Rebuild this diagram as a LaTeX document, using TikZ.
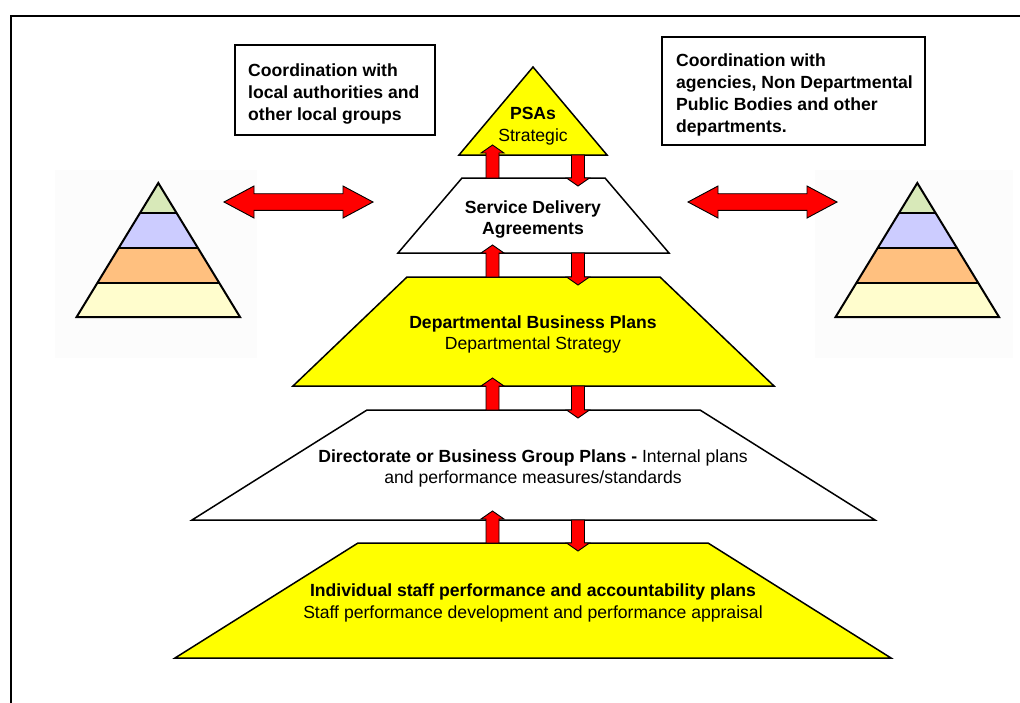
\documentclass[tikz,border=0pt]{standalone}
\usepackage{fontspec}
\setmainfont{Liberation Sans}
\definecolor{hiyellow}{HTML}{FFFF00}
\definecolor{arrowred}{HTML}{FF0000}
\definecolor{tiergreen}{HTML}{D8E9B9}
\definecolor{tierlav}{HTML}{CCCCFF}
\definecolor{tierorange}{HTML}{FFC07F}
\definecolor{tiercream}{HTML}{FFFDCD}
\definecolor{clipbg}{HTML}{FCFCFC}
\begin{document}
\begin{tikzpicture}[x=1pt,y=-1pt,line join=miter,
  level/.style={draw=black,line width=1.5},
  blockarrow/.style={draw=black,fill=arrowred,line width=0.9},
  lbl/.style={font=\fontsize{17.6}{21.5}\selectfont,align=center,inner sep=0,anchor=north},
  boxtext/.style={font=\fontsize{17.6}{22}\selectfont\bfseries,align=left,inner sep=0,anchor=north west},
  pics/uparrow/.style={code={
    \draw[blockarrow] (-6.5,0) -- (-6.5,-#1+8) -- (-11.5,-#1+8) -- (0,-#1)
      -- (11.5,-#1+8) -- (6.5,-#1+8) -- (6.5,0) -- cycle;}},
  pics/downarrow/.style={code={
    \draw[blockarrow] (-6.5,0) -- (-6.5,#1-8) -- (-11.5,#1-8) -- (0,#1)
      -- (11.5,#1-8) -- (6.5,#1-8) -- (6.5,0) -- cycle;}},
  pics/twoway/.style={code={
    \draw[blockarrow] (-74.5,0) -- (-44.5,-16) -- (-44.5,-8.3) -- (44.5,-8.3)
      -- (44.5,-16) -- (74.5,0) -- (44.5,16) -- (44.5,8.3) -- (-44.5,8.3)
      -- (-44.5,16) -- cycle;}},
  pics/tiers/.style={code={
    \begin{scope}
      \clip (0,0) -- (-81.7,134) -- (81.7,134) -- cycle;
      \fill[tiergreen]  (-90,0)    rectangle (90,29.7);
      \fill[tierlav]    (-90,29.7) rectangle (90,64.7);
      \fill[tierorange] (-90,64.7) rectangle (90,99.7);
      \fill[tiercream]  (-90,99.7) rectangle (90,134);
      \draw[line width=2] (-90,29.7) -- (90,29.7) (-90,64.7) -- (90,64.7)
        (-90,99.7) -- (90,99.7);
    \end{scope}
    \draw[line width=2] (0,0) -- (-81.7,134) -- (81.7,134) -- cycle;}}
]
\useasboundingbox (0,0) rectangle (1020,702);
\clip (0,0) rectangle (1020,702);

% page frame
\draw[line width=2] (10.5,15.5) rectangle (1040,730);

% side clip-art pyramids on their pale backgrounds
\fill[clipbg] (55,170) rectangle (257,358);
\fill[clipbg] (815,170) rectangle (1013,358);
\pic (leftpyr) at (158.3,183) {tiers};
\pic (rightpyr) at (917.3,183) {tiers};

% coordination boxes
\draw[line width=1.2] (235,45) rectangle (435,135);
\node[boxtext] (localtxt) at (248,63.5) {Coordination with\\local authorities and\\other local groups};
\draw[line width=1.2] (662,37) rectangle (925,145);
\node[boxtext] (agencytxt) at (676,53.5) {Coordination with\\agencies, Non Departmental\\Public Bodies and other\\departments.};

% the planning pyramid, top to bottom
\draw[level,fill=hiyellow] (533,67) -- (459,155) -- (607,155) -- cycle;
\draw[level,fill=white] (462,178) -- (605,178) -- (669,253) -- (398,253) -- cycle;
\draw[level,fill=hiyellow] (407,277) -- (660,277) -- (774,386) -- (293,386) -- cycle;
\draw[level,fill=white] (367,410) -- (700,410) -- (875,520) -- (192,520) -- cycle;
\draw[level,fill=hiyellow] (358,543) -- (708,543) -- (891,658) -- (175,658) -- cycle;

\node[lbl] (psa) at (533,107.5) {\bfseries PSAs\\Strategic};
\node[lbl] (sda) at (533,200.5) {\bfseries Service Delivery\\\bfseries Agreements};
\node[lbl] (dbp) at (533,315.5) {\bfseries Departmental Business Plans\\Departmental Strategy};
\node[lbl] (dir) at (533,449.5) {{\bfseries Directorate or Business Group Plans -} Internal plans\\and performance measures/standards};
\node[lbl] (ind) at (533,584) {\bfseries Individual staff performance and accountability plans\\Staff performance development and performance appraisal};

% links between levels
\coordinate (up1) at (492.5,178);   \coordinate (dn1) at (578,155);
\coordinate (up2) at (492.5,277);   \coordinate (dn2) at (578,253);
\coordinate (up3) at (492.5,410);   \coordinate (dn3) at (578,386);
\coordinate (up4) at (492.5,543);   \coordinate (dn4) at (578,520);
\pic at (up1) {uparrow=33};  \pic at (dn1) {downarrow=31};
\pic at (up2) {uparrow=32};  \pic at (dn2) {downarrow=32};
\pic at (up3) {uparrow=32};  \pic at (dn3) {downarrow=32};
\pic at (up4) {uparrow=32};  \pic at (dn4) {downarrow=31};

% exchanges with the side pyramids
\coordinate (westlink) at (298.5,202);
\coordinate (eastlink) at (762.5,202);
\pic at (westlink) {twoway};
\pic at (eastlink) {twoway};
\end{tikzpicture}
\end{document}
